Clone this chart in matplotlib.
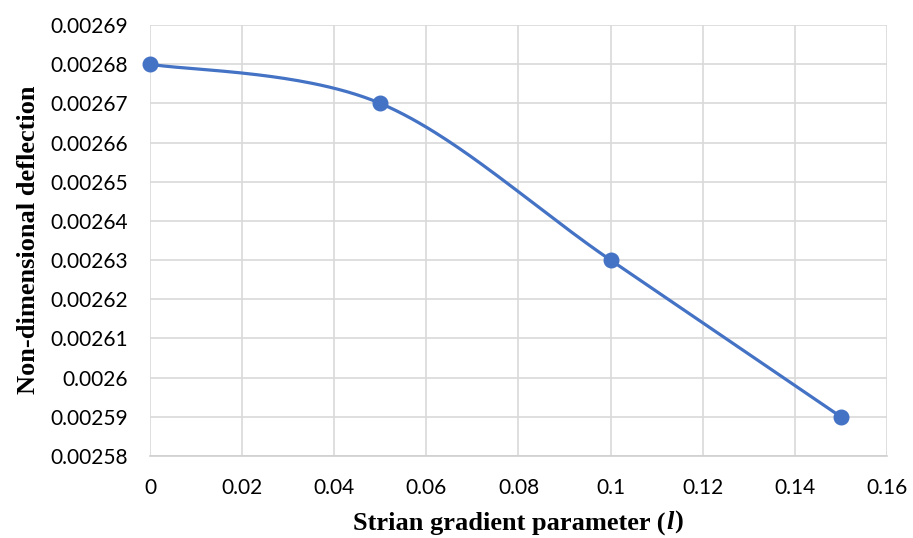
import numpy as np
import matplotlib.pyplot as plt

# data
l_vals = [0.0, 0.05, 0.10, 0.15]
deflection = [0.00268, 0.00267, 0.00263, 0.00259]

xticks = [0, 0.02, 0.04, 0.06, 0.08, 0.1, 0.12, 0.14, 0.16]
xtick_labels = ['0', '0.02', '0.04', '0.06', '0.08', '0.1', '0.12', '0.14', '0.16']
yticks = [0.00258, 0.00259, 0.0026, 0.00261, 0.00262, 0.00263,
          0.00264, 0.00265, 0.00266, 0.00267, 0.00268, 0.00269]
ytick_labels = ['0.00258', '0.00259', '0.0026', '0.00261', '0.00262', '0.00263',
                '0.00264', '0.00265', '0.00266', '0.00267', '0.00268', '0.00269']

xlim = (0, 0.16)
ylim = (0.00258, 0.00269)


def smooth_line(xs, ys, n=60):
    # spreadsheet-style smoothed line (cardinal bezier, drawn in axis space)
    sx = (xlim[1] - xlim[0]) / 737.0
    sy = (ylim[1] - ylim[0]) / 431.0
    p = np.column_stack([(np.array(xs) - xlim[0]) / sx, (np.array(ys) - ylim[0]) / sy])
    out = []
    t = np.linspace(0, 1, n)[:, None]
    for i in range(len(p) - 1):
        p0 = p[max(i - 1, 0)]
        p1 = p[i]
        p2 = p[i + 1]
        p3 = p[min(i + 2, len(p) - 1)]
        c1 = p1 + (p2 - p0) / 6.0
        c2 = p2 - (p3 - p1) / 6.0
        seg = ((1 - t) ** 3) * p1 + 3 * ((1 - t) ** 2) * t * c1 + 3 * (1 - t) * t ** 2 * c2 + t ** 3 * p2
        out.append(seg)
    out = np.vstack(out)
    return out[:, 0] * sx + xlim[0], out[:, 1] * sy + ylim[0]


fig = plt.figure(figsize=(9.13, 5.38), dpi=100)
ax = fig.add_axes([0.1643, 0.1524, 0.8072, 0.8011])

cx, cy = smooth_line(l_vals, deflection)
ax.plot(cx, cy, color='#4472C4', linewidth=2.3, zorder=3, solid_capstyle='round')
ax.plot(l_vals, deflection, 'o', color='#4472C4', markersize=10.5, zorder=4, clip_on=False)

ax.set_xlim(*xlim)
ax.set_ylim(*ylim)
ax.set_xticks(xticks)
ax.set_xticklabels(xtick_labels, fontfamily='Lato', fontsize=15)
ax.set_yticks(yticks)
ax.set_yticklabels(ytick_labels, fontfamily='Lato', fontsize=15)
ax.tick_params(axis='y', length=0, pad=16)
ax.tick_params(axis='x', length=0, pad=16)

ax.grid(True, color='#D9D9D9', linewidth=1.2)
ax.set_axisbelow(True)
for s in ax.spines.values():
    s.set_visible(False)
ax.spines['bottom'].set_visible(True)
ax.spines['bottom'].set_color('#D0D0D0')
ax.spines['bottom'].set_linewidth(1.2)

# x label built from pieces so the "l" can be bold italic
lab_font = dict(fontfamily='Liberation Serif', fontweight='bold', fontsize=19)
pieces = [('Strian gradient parameter (', 'normal'), ('l', 'italic'), (')', 'normal')]
renderer = fig.canvas.get_renderer()
texts = []
for s, st in pieces:
    texts.append(fig.text(0, 0.028, s, fontstyle=st, ha='left', va='center', **lab_font))
widths = [t.get_window_extent(renderer).width for t in texts]
total = sum(widths) + 2
x0 = 518 - total / 2
for t, w in zip(texts, widths):
    t.set_x(x0 / 913.0)
    x0 += w + 1

fig.text(0.031, 0.554, 'Non-dimensional deflection', rotation=90,
         ha='center', va='center', **lab_font)

fig.savefig('out.png', dpi=100)
